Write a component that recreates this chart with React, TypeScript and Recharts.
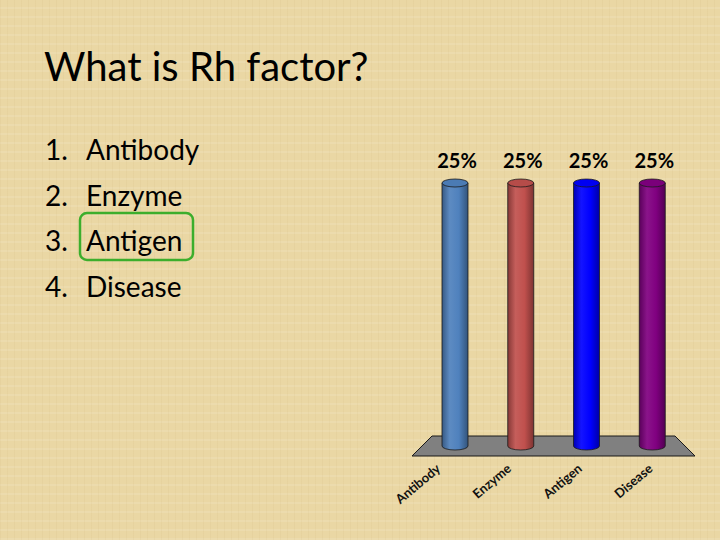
import React from 'react';
import { BarChart, Bar, XAxis, YAxis, LabelList, ReferenceArea } from 'recharts';

const categories = ['Antibody', 'Enzyme', 'Antigen', 'Disease'];
const percents = [25, 25, 25, 25];
const barColors = ['#4f81bd', '#c0504d', '#0000ff', '#800080'];
const listItems = ['Antibody', 'Enzyme', 'Antigen', 'Disease'];
const answerIndex = 2;

const data = categories.map((name, i) => ({ name, value: percents[i] }));

const FONT = 'Lato, "Open Sans", sans-serif';
const CHART_W = 340;
const CHART_H = 410;
const margin = { top: 53, right: 35, bottom: 64, left: 42 };
const PLOT_L = margin.left;
const PLOT_R = CHART_W - margin.right;
const PLOT_CX = (PLOT_L + PLOT_R) / 2;

// shade a hex colour by factor (<1 darker, >1 lighter)
const shade = (hex: string, f: number) => {
    const n = parseInt(hex.slice(1), 16);
    const ch = [(n >> 16) & 255, (n >> 8) & 255, n & 255].map((c) =>
        f < 1 ? Math.round(c * f) : Math.round(c + (255 - c) * (f - 1))
    );
    return `rgb(${ch.join(',')})`;
};

const Cylinder = (props: any) => {
    const { x, y, width, height, index } = props;
    const rx = width / 2;
    const ry = 4;
    const id = `cyl-${index}`;
    const c = barColors[index];
    return (
        <g>
            <defs>
                <linearGradient id={id} x1="0" y1="0" x2="1" y2="0">
                    <stop offset="0%" stopColor={shade(c, 0.7)} />
                    <stop offset="30%" stopColor={shade(c, 1.08)} />
                    <stop offset="65%" stopColor={c} />
                    <stop offset="100%" stopColor={shade(c, 0.65)} />
                </linearGradient>
            </defs>
            <path
                d={`M${x},${y} L${x},${y + height} A${rx},${ry} 0 0 0 ${x + width},${y + height} L${x + width},${y} Z`}
                fill={`url(#${id})`}
                stroke="#1a1a1a"
                strokeWidth={0.8}
            />
            <ellipse cx={x + rx} cy={y} rx={rx} ry={ry} fill={shade(c, 0.95)} stroke="#1a1a1a" strokeWidth={0.8} />
        </g>
    );
};

const Floor = (props: any) => {
    const { x, y, width, height } = props;
    const d = 10;
    const pts = [
        [x + d, y],
        [x + width - d, y],
        [x + width + d, y + height],
        [x - d, y + height],
    ]
        .map((p) => p.join(','))
        .join(' ');
    return <polygon points={pts} fill="#808080" stroke="#1a1a1a" strokeWidth={1} />;
};

const CategoryTick = (props: any) => {
    const { x, y, payload } = props;
    // labels sit along the front edge of the floor, which is wider than the plot
    const tx = PLOT_CX + (x - PLOT_CX) * 1.076 - 6;
    return (
        <text
            x={tx}
            y={y + 24}
            textAnchor="end"
            transform={`rotate(-40, ${tx}, ${y + 24})`}
            fontFamily={FONT}
            fontWeight={700}
            fontSize={13}
            fill="#111"
        >
            {payload.value}
        </text>
    );
};

const PercentLabel = (props: any) => {
    const { x, y, width, value } = props;
    return (
        <text x={x + width / 2 + 2} y={y - 15} textAnchor="middle" fontFamily={FONT} fontWeight={700} fontSize={20} fill="#000">
            {value}%
        </text>
    );
};

export default function App() {
    return (
        <div
            style={{
                position: 'absolute',
                left: 0,
                top: 0,
                width: 720,
                height: 540,
                overflow: 'hidden',
                background:
                    'repeating-linear-gradient(90deg, rgba(170,135,70,0.06) 0 1px, transparent 1px 7px), repeating-linear-gradient(0deg, rgba(255,255,255,0.10) 0 2px, transparent 2px 9px), #ead7a4',
            }}
        >
            <svg width={720} height={540} style={{ position: 'absolute', left: 0, top: 0 }}>
                <text x={44} y={81} fontFamily={FONT} fontSize={40} fill="#000">
                    What is Rh factor?
                </text>
                {listItems.map((item, i) => (
                    <g key={item}>
                        <text x={45} y={160 + i * 45.7} fontFamily={FONT} fontSize={28} fill="#000">
                            {i + 1}.
                        </text>
                        <text x={86} y={160 + i * 45.7} fontFamily={FONT} fontSize={28} fill="#000">
                            {item}
                        </text>
                    </g>
                ))}
                <rect
                    x={80}
                    y={213 + (answerIndex - 2) * 45.7}
                    width={113}
                    height={47}
                    rx={7}
                    fill="none"
                    stroke="#3cae2c"
                    strokeWidth={2.5}
                />
            </svg>
            <div style={{ position: 'absolute', left: 380, top: 130 }}>
                <BarChart width={CHART_W} height={CHART_H} data={data} margin={margin} barSize={26}>
                    <YAxis hide domain={[0, 25]} width={0} />
                    <XAxis
                        dataKey="name"
                        axisLine={false}
                        tickLine={false}
                        tickSize={0}
                        tickMargin={0}
                        interval={0}
                        height={30}
                        tick={<CategoryTick />}
                    />
                    <ReferenceArea y1={-0.95} y2={0.95} ifOverflow="visible" shape={<Floor />} />
                    <Bar dataKey="value" shape={<Cylinder />} isAnimationActive={false}>
                        <LabelList dataKey="value" content={<PercentLabel />} />
                    </Bar>
                </BarChart>
            </div>
        </div>
    );
}
